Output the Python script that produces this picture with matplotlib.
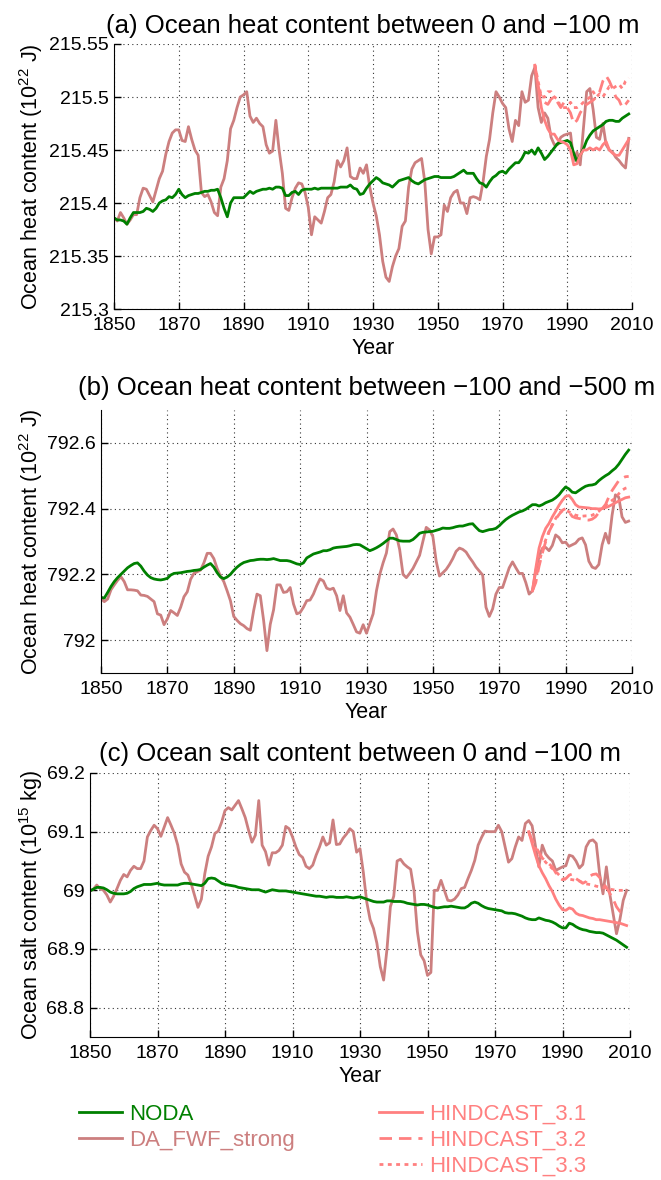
import numpy as np
import matplotlib
matplotlib.use("Agg")
import matplotlib.pyplot as plt
from matplotlib.lines import Line2D
from matplotlib.ticker import FormatStrFormatter
from matplotlib.transforms import blended_transform_factory

plt.rcParams['font.family'] = ['Liberation Sans', 'DejaVu Sans']
plt.rcParams['mathtext.default'] = 'regular'

years = np.arange(1850, 2010)
hc_years = np.arange(1980, 2010)

# (a) heat content 0 to -100 m
noda_a = [
    215.386, 215.384, 215.384, 215.383, 215.380, 215.386, 215.391, 215.391, 215.391, 215.392,
    215.395, 215.394, 215.392, 215.395, 215.400, 215.402, 215.403, 215.406, 215.405, 215.408,
    215.413, 215.408, 215.405, 215.407, 215.408, 215.409, 215.409, 215.410, 215.411, 215.411,
    215.412, 215.412, 215.413, 215.405, 215.395, 215.387, 215.400, 215.405, 215.405, 215.405,
    215.405, 215.408, 215.411, 215.409, 215.411, 215.412, 215.413, 215.413, 215.414, 215.413,
    215.415, 215.415, 215.414, 215.407, 215.407, 215.410, 215.411, 215.408, 215.412, 215.413,
    215.413, 215.413, 215.414, 215.413, 215.414, 215.414, 215.414, 215.414, 215.414, 215.414,
    215.415, 215.415, 215.415, 215.417, 215.414, 215.413, 215.408, 215.409, 215.414, 215.418,
    215.421, 215.424, 215.422, 215.419, 215.418, 215.417, 215.415, 215.418, 215.421, 215.422,
    215.423, 215.424, 215.421, 215.419, 215.418, 215.420, 215.422, 215.423, 215.424, 215.425,
    215.425, 215.424, 215.424, 215.424, 215.424, 215.425, 215.427, 215.429, 215.431, 215.428,
    215.428, 215.428, 215.423, 215.419, 215.418, 215.415, 215.420, 215.424, 215.426, 215.429,
    215.430, 215.428, 215.432, 215.435, 215.438, 215.438, 215.442, 215.448, 215.447, 215.450,
    215.446, 215.452, 215.447, 215.441, 215.444, 215.448, 215.452, 215.456, 215.457, 215.458,
    215.459, 215.457, 215.447, 215.439, 215.445, 215.451, 215.459, 215.464, 215.468, 215.470,
    215.472, 215.474, 215.477, 215.478, 215.478, 215.477, 215.477, 215.480, 215.482, 215.484,
]
da_a = [
    215.386, 215.383, 215.391, 215.386, 215.380, 215.384, 215.389, 215.389, 215.405, 215.414,
    215.413, 215.407, 215.401, 215.412, 215.423, 215.430, 215.446, 215.458, 215.466, 215.469,
    215.469, 215.459, 215.458, 215.472, 215.460, 215.450, 215.445, 215.410, 215.406, 215.408,
    215.401, 215.391, 215.388, 215.415, 215.423, 215.440, 215.470, 215.478, 215.490, 215.500,
    215.502, 215.505, 215.482, 215.476, 215.480, 215.475, 215.472, 215.455, 215.447, 215.449,
    215.478, 215.450, 215.428, 215.395, 215.393, 215.405, 215.414, 215.419, 215.418, 215.410,
    215.396, 215.370, 215.387, 215.384, 215.381, 215.392, 215.405, 215.408, 215.420, 215.440,
    215.434, 215.440, 215.452, 215.425, 215.423, 215.423, 215.433, 215.428, 215.436, 215.415,
    215.400, 215.388, 215.370, 215.345, 215.330, 215.326, 215.340, 215.350, 215.357, 215.378,
    215.383, 215.415, 215.432, 215.438, 215.440, 215.442, 215.420, 215.375, 215.352, 215.368,
    215.368, 215.370, 215.398, 215.392, 215.405, 215.410, 215.412, 215.400, 215.400, 215.390,
    215.405, 215.406, 215.405, 215.403, 215.420, 215.444, 215.460, 215.485, 215.505, 215.500,
    215.494, 215.490, 215.470, 215.458, 215.478, 215.473, 215.505, 215.495, 215.497, 215.520,
    215.528, 215.490, 215.476, 215.485, 215.480, 215.462, 215.455, 215.455, 215.462, 215.464,
    215.465, 215.466, 215.440, 215.448, 215.436, 215.470, 215.505, 215.508, 215.488, 215.462,
    215.460, 215.475, 215.455, 215.450, 215.448, 215.443, 215.440, 215.436, 215.433, 215.461,
]
hc1_a = [
    215.530, 215.510, 215.490, 215.478, 215.470, 215.465, 215.465, 215.460, 215.458, 215.457,
    215.455, 215.450, 215.436, 215.437, 215.445, 215.450, 215.450, 215.452, 215.450, 215.452,
    215.450, 215.455, 215.458, 215.450, 215.447, 215.445, 215.445, 215.450, 215.455, 215.460,
]
hc2_a = [
    215.530, 215.510, 215.500, 215.495, 215.493, 215.498, 215.500, 215.495, 215.490, 215.495,
    215.490, 215.485, 215.475, 215.478, 215.485, 215.490, 215.493, 215.495, 215.497, 215.500,
    215.505, 215.515, 215.520, 215.515, 215.508, 215.500, 215.497, 215.490, 215.493, 215.497,
]
hc3_a = [
    215.530, 215.515, 215.500, 215.500, 215.505, 215.505, 215.500, 215.498, 215.490, 215.490,
    215.490, 215.495, 215.490, 215.490, 215.492, 215.495, 215.497, 215.500, 215.505, 215.500,
    215.503, 215.500, 215.505, 215.510, 215.508, 215.510, 215.512, 215.508, 215.515, 215.518,
]

# (b) heat content -100 to -500 m
noda_b = [
    792.130, 792.128, 792.145, 792.163, 792.178, 792.190, 792.200, 792.210, 792.220, 792.227,
    792.233, 792.235, 792.225, 792.210, 792.198, 792.190, 792.186, 792.184, 792.183, 792.185,
    792.188, 792.198, 792.203, 792.204, 792.205, 792.207, 792.209, 792.210, 792.212, 792.213,
    792.215, 792.222, 792.228, 792.233, 792.222, 792.205, 792.192, 792.187, 792.192, 792.200,
    792.212, 792.222, 792.230, 792.236, 792.239, 792.242, 792.243, 792.245, 792.246, 792.246,
    792.245, 792.246, 792.248, 792.245, 792.242, 792.242, 792.242, 792.240, 792.236, 792.232,
    792.230, 792.235, 792.250, 792.256, 792.262, 792.265, 792.268, 792.272, 792.272, 792.275,
    792.280, 792.282, 792.283, 792.284, 792.285, 792.287, 792.290, 792.291, 792.290, 792.284,
    792.278, 792.272, 792.276, 792.281, 792.287, 792.294, 792.302, 792.310, 792.310, 792.306,
    792.302, 792.301, 792.301, 792.301, 792.306, 792.315, 792.325, 792.328, 792.329, 792.330,
    792.331, 792.334, 792.337, 792.341, 792.340, 792.340, 792.342, 792.345, 792.347, 792.347,
    792.350, 792.353, 792.354, 792.343, 792.333, 792.330, 792.333, 792.336, 792.337, 792.340,
    792.348, 792.358, 792.367, 792.374, 792.380, 792.385, 792.390, 792.393, 792.398, 792.405,
    792.412, 792.412, 792.408, 792.412, 792.418, 792.422, 792.426, 792.433, 792.442, 792.455,
    792.466, 792.460, 792.450, 792.448, 792.455, 792.462, 792.468, 792.471, 792.472, 792.475,
    792.485, 792.493, 792.500, 792.506, 792.515, 792.523, 792.535, 792.550, 792.565, 792.578,
]
da_b = [
    792.127, 792.117, 792.125, 792.153, 792.168, 792.182, 792.193, 792.178, 792.153, 792.153,
    792.152, 792.150, 792.137, 792.136, 792.133, 792.125, 792.117, 792.080, 792.076, 792.047,
    792.065, 792.090, 792.083, 792.075, 792.100, 792.132, 792.147, 792.185, 792.203, 792.208,
    792.213, 792.235, 792.264, 792.264, 792.248, 792.218, 792.195, 792.178, 792.150, 792.120,
    792.072, 792.060, 792.050, 792.044, 792.035, 792.030, 792.090, 792.140, 792.135, 792.060,
    791.968, 792.048, 792.092, 792.168, 792.168, 792.145, 792.147, 792.160, 792.110, 792.080,
    792.084, 792.100, 792.120, 792.122, 792.140, 792.165, 792.186, 792.180, 792.158, 792.154,
    792.158, 792.135, 792.090, 792.135, 792.083, 792.070, 792.048, 792.025, 792.021, 792.047,
    792.021, 792.050, 792.080, 792.150, 792.200, 792.235, 792.265, 792.330, 792.338, 792.320,
    792.275, 792.200, 792.190, 792.203, 792.218, 792.238, 792.258, 792.300, 792.343, 792.335,
    792.315, 792.240, 792.195, 792.205, 792.215, 792.230, 792.248, 792.270, 792.280, 792.276,
    792.268, 792.252, 792.238, 792.222, 792.210, 792.198, 792.100, 792.072, 792.095, 792.140,
    792.160, 792.160, 792.190, 792.220, 792.238, 792.220, 792.203, 792.203, 792.175, 792.140,
    792.150, 792.210, 792.255, 792.279, 792.282, 792.272, 792.288, 792.320, 792.312, 792.296,
    792.298, 792.285, 792.290, 792.295, 792.307, 792.311, 792.290, 792.240, 792.222, 792.218,
    792.230, 792.290, 792.325, 792.295, 792.380, 792.442, 792.435, 792.375, 792.358, 792.362,
]
hc1_b = [
    792.150, 792.218, 792.280, 792.315, 792.340, 792.355, 792.375, 792.392, 792.410, 792.425,
    792.437, 792.440, 792.428, 792.412, 792.405, 792.404, 792.403, 792.402, 792.400, 792.400,
    792.399, 792.400, 792.403, 792.407, 792.412, 792.418, 792.423, 792.428, 792.433, 792.435,
]
hc2_b = [
    792.150, 792.175, 792.225, 792.265, 792.300, 792.330, 792.350, 792.368, 792.382, 792.395,
    792.400, 792.390, 792.376, 792.372, 792.370, 792.368, 792.366, 792.365, 792.368, 792.375,
    792.388, 792.400, 792.412, 792.435, 792.455, 792.470, 792.485, 792.492, 792.497, 792.498,
]
hc3_b = [
    792.150, 792.185, 792.235, 792.275, 792.305, 792.330, 792.352, 792.370, 792.385, 792.393,
    792.396, 792.390, 792.385, 792.380, 792.378, 792.377, 792.378, 792.378, 792.380, 792.385,
    792.392, 792.402, 792.410, 792.418, 792.425, 792.432, 792.445, 792.456, 792.462, 792.465,
]

# (c) salt content 0 to -100 m
noda_c = [
    68.999, 69.002, 69.005, 69.005, 69.004, 69.001, 68.997, 68.995, 68.994, 68.994,
    68.994, 68.995, 68.998, 69.003, 69.006, 69.008, 69.010, 69.010, 69.010, 69.011,
    69.012, 69.010, 69.009, 69.009, 69.009, 69.009, 69.009, 69.011, 69.012, 69.012,
    69.011, 69.010, 69.009, 69.008, 69.012, 69.020, 69.021, 69.020, 69.016, 69.012,
    69.010, 69.009, 69.008, 69.007, 69.005, 69.004, 69.003, 69.002, 69.001, 69.001,
    69.001, 68.999, 68.997, 68.999, 69.001, 69.000, 68.999, 68.999, 68.999, 68.998,
    68.997, 68.996, 68.995, 68.994, 68.993, 68.992, 68.991, 68.990, 68.990, 68.989,
    68.988, 68.989, 68.989, 68.988, 68.988, 68.988, 68.989, 68.988, 68.987, 68.988,
    68.989, 68.987, 68.985, 68.983, 68.981, 68.980, 68.980, 68.980, 68.982, 68.982,
    68.981, 68.981, 68.981, 68.980, 68.978, 68.977, 68.976, 68.975, 68.976, 68.976,
    68.975, 68.973, 68.971, 68.970, 68.971, 68.972, 68.972, 68.973, 68.972, 68.971,
    68.970, 68.970, 68.973, 68.978, 68.980, 68.978, 68.974, 68.971, 68.969, 68.968,
    68.967, 68.966, 68.965, 68.962, 68.961, 68.961, 68.960, 68.958, 68.956, 68.953,
    68.951, 68.950, 68.950, 68.953, 68.951, 68.949, 68.948, 68.946, 68.943, 68.939,
    68.936, 68.936, 68.944, 68.942, 68.938, 68.935, 68.933, 68.932, 68.930, 68.929,
    68.928, 68.928, 68.927, 68.924, 68.921, 68.918, 68.915, 68.911, 68.907, 68.903,
]
da_c = [
    68.999, 69.002, 69.009, 69.003, 69.000, 68.992, 68.980, 68.990, 69.003, 69.017,
    69.027, 69.023, 69.034, 69.041, 69.037, 69.037, 69.050, 69.091, 69.102, 69.111,
    69.105, 69.092, 69.108, 69.124, 69.111, 69.097, 69.077, 69.045, 69.031, 69.026,
    69.011, 68.991, 68.971, 68.985, 69.028, 69.058, 69.074, 69.097, 69.101, 69.116,
    69.136, 69.141, 69.137, 69.145, 69.153, 69.139, 69.124, 69.102, 69.082, 69.094,
    69.153, 69.077, 69.066, 69.043, 69.064, 69.064, 69.068, 69.077, 69.109, 69.105,
    69.091, 69.074, 69.061, 69.056, 69.041, 69.037, 69.043, 69.060, 69.074, 69.091,
    69.077, 69.081, 69.120, 69.078, 69.079, 69.089, 69.096, 69.105, 69.100, 69.065,
    69.071, 69.030, 68.980, 68.950, 68.935, 68.910, 68.870, 68.847, 68.900, 68.972,
    68.990, 69.050, 69.053, 69.045, 69.040, 69.036, 69.000, 68.930, 68.890, 68.880,
    68.855, 68.860, 69.000, 69.000, 69.017, 69.000, 68.983, 68.982, 68.985, 68.992,
    69.003, 69.005, 69.020, 69.034, 69.051, 69.077, 69.090, 69.101, 69.100, 69.100,
    69.100, 69.111, 69.100, 69.074, 69.048, 69.054, 69.074, 69.091, 69.085, 69.114,
    69.119, 69.110, 69.075, 69.040, 69.077, 69.062, 69.055, 69.050, 69.034, 69.037,
    69.040, 69.042, 69.060, 69.058, 69.050, 69.038, 69.044, 69.074, 69.084, 69.086,
    69.080, 69.028, 68.994, 69.040, 68.994, 68.960, 68.926, 68.950, 68.983, 69.000,
]
hc1_c = [
    69.100, 69.080, 69.060, 69.042, 69.030, 69.020, 69.008, 68.998, 68.985, 68.975,
    68.967, 68.966, 68.970, 68.968, 68.961, 68.958, 68.957, 68.955, 68.953, 68.952,
    68.950, 68.950, 68.949, 68.948, 68.947, 68.946, 68.945, 68.944, 68.942, 68.940,
]
hc2_c = [
    69.100, 69.085, 69.075, 69.065, 69.055, 69.050, 69.045, 69.040, 69.030, 69.022,
    69.018, 69.020, 69.026, 69.028, 69.020, 69.016, 69.012, 69.015, 69.024, 69.027,
    69.028, 69.022, 69.012, 69.005, 68.995, 68.985, 68.972, 68.964, 68.965, 68.970,
]
hc3_c = [
    69.100, 69.085, 69.072, 69.062, 69.055, 69.048, 69.042, 69.037, 69.032, 69.026,
    69.020, 69.019, 69.019, 69.018, 69.017, 69.016, 69.013, 69.011, 69.010, 69.009,
    69.007, 69.006, 69.005, 69.004, 69.002, 69.001, 69.000, 69.000, 69.000, 69.000,
]

titles = [
    '(a) Ocean heat content between 0 and \u2212100 m',
    '(b) Ocean heat content between \u2212100 and \u2212500 m',
    '(c) Ocean salt content between 0 and \u2212100 m',
]
ylabels = [
    'Ocean heat content (10$^{22}$ J)',
    'Ocean heat content (10$^{22}$ J)',
    'Ocean salt content (10$^{15}$ kg)',
]
yticks = [
    [215.3, 215.35, 215.4, 215.45, 215.5, 215.55],
    [792.0, 792.2, 792.4, 792.6],
    [68.8, 68.9, 69.0, 69.1, 69.2],
]
ylims = [(215.3, 215.55), (791.9, 792.7), (68.75, 69.2)]
xticks = np.arange(1850, 2011, 20)

c_noda = '#008000'
c_da = '#CC7F7F'
c_hc = '#FF8080'
lw = 2.0
ls_dash = (0, (4.5, 2.5))
ls_dot = (0, (1.4, 1.6))

W, H = 661, 1180
fig = plt.figure(figsize=(W / 100, H / 100), dpi=100)

# axes boxes in pixels: left, right, top, bottom
boxes = [(114, 632, 44, 309), (101, 632, 410, 673), (90, 630, 773, 1037)]
title_pads = [8, 11, 9]
xlabel_y = [348, 712, 1077]

series = [
    (noda_a, da_a, hc1_a, hc2_a, hc3_a),
    (noda_b, da_b, hc1_b, hc2_b, hc3_b),
    (noda_c, da_c, hc1_c, hc2_c, hc3_c),
]

for i in range(3):
    l, r, t, b = boxes[i]
    ax = fig.add_axes([l / W, 1 - b / H, (r - l) / W, (b - t) / H])
    noda, da, hc1, hc2, hc3 = series[i]
    ax.plot(years, da, color=c_da, lw=lw)
    ax.plot(years, noda, color=c_noda, lw=lw)
    ax.plot(hc_years, hc1, color=c_hc, lw=lw)
    ax.plot(hc_years, hc2, color=c_hc, lw=lw, ls=ls_dash)
    ax.plot(hc_years, hc3, color=c_hc, lw=lw, ls=ls_dot)

    ax.set_xlim(1850, 2010)
    ax.set_ylim(*ylims[i])
    ax.set_xticks(xticks)
    ax.set_yticks(yticks[i])
    ax.yaxis.set_major_formatter(FormatStrFormatter('%g'))
    ax.tick_params(direction='in', labelsize=14, length=5, width=1)
    ax.tick_params(axis='x', pad=6)
    ax.tick_params(axis='y', pad=4)
    ax.grid(True, ls=(0, (1, 3)), color='#333333', lw=0.8)
    ax.spines['top'].set_visible(False)
    ax.spines['right'].set_visible(False)

    ax.set_title(titles[i], fontsize=18.5, pad=title_pads[i])
    ax.set_ylabel(ylabels[i], fontsize=15.5, va='center')
    ax.yaxis.set_label_coords(31 / W, 0.5,
                              transform=blended_transform_factory(fig.transFigure, ax.transAxes))
    ax.set_xlabel('Year', fontsize=15.5, va='center')
    ax.xaxis.set_label_coords(0.5, 1 - xlabel_y[i] / H,
                              transform=blended_transform_factory(ax.transAxes, fig.transFigure))

# legend below the panels, two groups
h_noda = Line2D([], [], color=c_noda, lw=lw)
h_da = Line2D([], [], color=c_da, lw=lw)
h_hc1 = Line2D([], [], color=c_hc, lw=lw)
h_hc2 = Line2D([], [], color=c_hc, lw=lw, ls=ls_dash)
h_hc3 = Line2D([], [], color=c_hc, lw=lw, ls=ls_dot)

leg_kw = dict(frameon=False, fontsize=16, handlelength=1.95, handletextpad=0.3,
              labelspacing=0.22, borderpad=0, borderaxespad=0, labelcolor='linecolor',
              loc='upper left')
fig.legend([h_noda, h_da], ['NODA', 'DA_FWF_strong'],
           bbox_to_anchor=(79 / W, 1 - 1104 / H), **leg_kw)
fig.legend([h_hc1, h_hc2, h_hc3], ['HINDCAST_3.1', 'HINDCAST_3.2', 'HINDCAST_3.3'],
           bbox_to_anchor=(379 / W, 1 - 1104 / H), **leg_kw)

fig.savefig('out.png', dpi=100)
